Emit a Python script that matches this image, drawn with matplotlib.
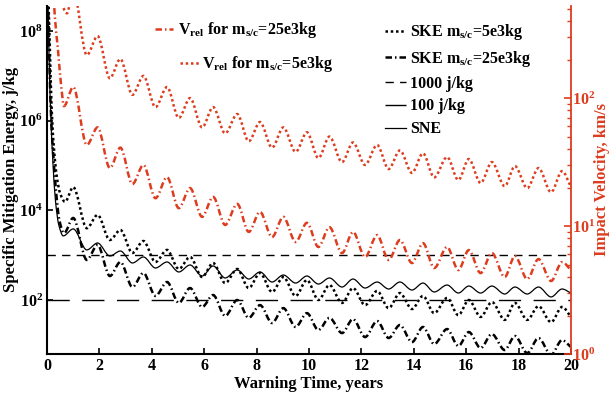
import numpy as np
import matplotlib
matplotlib.use('Agg')
import matplotlib.pyplot as plt
from matplotlib.path import Path
from matplotlib.patches import PathPatch
from matplotlib.lines import Line2D
from matplotlib.ticker import FixedLocator, NullLocator

plt.rcParams['font.family'] = ['Liberation Serif', 'DejaVu Serif']
plt.rcParams['font.weight'] = 'bold'
plt.rcParams['mathtext.fontset'] = 'custom'
plt.rcParams['mathtext.rm'] = 'Liberation Serif:bold'
plt.rcParams['mathtext.it'] = 'Liberation Serif:bold'
plt.rcParams['mathtext.bf'] = 'Liberation Serif:bold'
plt.rcParams['mathtext.default'] = 'rm'

RED = '#dd3c1e'

# warning time of the peaks / troughs of the oscillation (years)
t_osc = [1.0, 1.52, 1.93, 2.4, 2.8, 3.26, 3.68, 4.14, 4.58, 5.03, 5.46, 5.92,
         6.34, 6.8, 7.26, 7.7, 8.13, 8.59, 9.02, 9.49, 9.92, 10.36, 10.78, 11.26,
         11.68, 12.14, 12.6, 13.04, 13.47, 13.93, 14.35, 14.78, 15.27, 15.7, 16.1,
         16.55, 16.98, 17.47, 17.86, 18.33, 18.76, 19.24, 19.66, 20.0]

# impact velocity, km/s (right axis)
t_v5_start = [0.25, 0.5, 0.76]
v5_start = [3000, 640, 460]
v5 = [700, 217, 305, 143, 202, 106, 149, 85, 122, 70, 100, 59,
      85, 53, 75, 46, 65, 41, 59, 38, 54, 34, 50, 31.6,
      45, 30, 43, 27.9, 39, 26, 37, 24, 34.6, 22.9, 33.4,
      21.7, 31.6, 20.5, 29.4, 19.8, 28.4, 18.4, 26.9, 20.2]

t_v25_start = [0.22, 0.3, 0.42, 0.53, 0.65]
v25_start = [836, 429, 237, 131, 86.6]
v25 = [122, 43, 59, 28.4, 41, 21.3, 30, 16.5, 24.1, 13.8, 19.8, 11.8,
       16.9, 10.2, 14.9, 9.0, 12.9, 8.2, 11.8, 7.5, 10.6, 6.86, 9.8, 6.15,
       9.0, 5.73, 8.5, 5.43, 7.78, 5.14, 7.36, 4.70, 6.86, 4.53, 6.49,
       4.29, 6.15, 4.0, 5.83, 3.85, 5.52, 3.72, 5.23, 4.53]

# specific mitigation energy, j/kg (left axis)
t_ske5_start = [0.02, 0.1, 0.18, 0.27, 0.38, 0.5, 0.69]
ske5_start = [2.3e9, 6.3e7, 1.7e6, 2.2e5, 5.3e4, 2.4e4, 1.55e4]
ske5 = [3.3e4, 4.0e3, 7.9e3, 2.18e3, 3.65e3, 1.12e3, 2.07e3, 705, 1310, 492, 912, 326,
        670, 239, 492, 185, 400, 151, 326, 123, 279, 100, 216, 86,
        185, 77, 159, 66, 143, 63, 123, 51, 111, 46, 100,
        42, 90, 36, 86, 36, 73, 32, 70, 42]

t_ske25_start = [0.02, 0.09, 0.16, 0.24, 0.34, 0.47, 0.65]
ske25_start = [2.3e9, 2.3e7, 1.04e6, 1.73e5, 2.85e4, 6.1e3, 3.1e3]
ske25 = [6760, 782, 1690, 343, 705, 195, 400, 123, 252, 86, 185, 70,
         129, 44, 100, 40, 77, 30.7, 66, 25, 51, 21.4, 40, 18.3,
         37.6, 14.9, 34, 14.2, 27.7, 11.5, 25, 10.4, 22.5, 9.4, 19.3,
         8.5, 17.4, 7.66, 15.7, 6.56, 14.2, 6.0, 12.8, 8.9]

t_sne_start = [0.02, 0.08, 0.15, 0.22, 0.32, 0.45, 0.62]
sne_start = [2.3e9, 2.28e7, 1.04e6, 1.33e5, 1.7e4, 4.7e3, 2.69e3]
sne = [3850, 1310, 1870, 960, 1240, 670, 912, 518, 705, 422, 604, 343,
       574, 310, 468, 294, 422, 252, 361, 239, 343, 227, 310, 195,
       294, 185, 252, 176, 252, 167, 239, 151, 216, 143, 205,
       143, 205, 136, 195, 136, 195, 117, 176, 143]

levels_t = [0, 20]
level_1000 = 1000
level_100 = 100


def smooth_path(t, v):
    # monotone cubic (pchip-like) Bezier through the points, in log space
    x = np.asarray(t, float)
    y = np.log10(np.asarray(v, float))
    h = np.diff(x)
    d = np.diff(y) / h
    m = np.zeros_like(y)
    for i in range(1, len(y) - 1):
        if d[i - 1] * d[i] > 0:
            w1 = 2 * h[i] + h[i - 1]
            w2 = h[i] + 2 * h[i - 1]
            m[i] = (w1 + w2) / (w1 / d[i - 1] + w2 / d[i])
    m[0] = d[0]
    m[-1] = d[-1]
    verts = [(x[0], y[0])]
    codes = [Path.MOVETO]
    for i in range(len(x) - 1):
        verts += [(x[i] + h[i] / 3, y[i] + m[i] * h[i] / 3),
                  (x[i + 1] - h[i] / 3, y[i + 1] - m[i + 1] * h[i] / 3),
                  (x[i + 1], y[i + 1])]
        codes += [Path.CURVE4] * 3
    verts = np.array(verts)
    verts[:, 1] = 10 ** verts[:, 1]
    return Path(verts, codes)


def add_curve(axis, t, v, **kw):
    axis.add_patch(PathPatch(smooth_path(t, v), fill=False, **kw))


dotted = (0, (1, 1.1))
dashdot = (0, (2.6, 1.2, 0.6, 1.2))

fig = plt.figure(figsize=(6.09, 3.96), dpi=100)
ax = fig.add_axes([0.0772, 0.106, 0.8604, 0.879])
ax.set_yscale('log')
ax.set_xlim(0, 20)
ax.set_ylim(10 ** 0.795, 10 ** 8.56)

ax2 = ax.twinx()
ax2.set_yscale('log')
ax2.set_ylim(1, 10 ** 2.72)

ax.plot(levels_t, [level_1000] * 2, color='black', lw=1, dashes=(6, 4.5))
ax.plot(levels_t, [level_100] * 2, color='black', lw=1, dashes=(16, 9))
add_curve(ax, t_sne_start + t_osc, sne_start + sne, edgecolor='black', lw=0.9)
add_curve(ax, t_ske5_start + t_osc, ske5_start + ske5, edgecolor='black', lw=1.8, linestyle=dotted)
add_curve(ax, t_ske25_start + t_osc, ske25_start + ske25, edgecolor='black', lw=1.8, linestyle=dashdot)
add_curve(ax2, t_v5_start + t_osc, v5_start + v5, edgecolor=RED, lw=1.8, linestyle=dotted)
add_curve(ax2, t_v25_start + t_osc, v25_start + v25, edgecolor=RED, lw=1.8, linestyle=dashdot)

# axes styling
for a in (ax, ax2):
    a.spines['top'].set_visible(False)
ax.spines['right'].set_visible(False)
ax2.spines['left'].set_visible(False)
ax2.spines['bottom'].set_visible(False)
ax2.spines['right'].set_color(RED)
ax2.spines['right'].set_linewidth(1.3)
ax.spines['left'].set_linewidth(1.5)
ax.spines['bottom'].set_linewidth(1.5)

ax.set_xticks(np.arange(0, 21, 2))
ax.yaxis.set_major_locator(FixedLocator([1e2, 1e4, 1e6, 1e8]))
ax.yaxis.set_minor_locator(NullLocator())
ax.tick_params(direction='in', which='both', top=False, right=False,
               labelsize=11.5, length=4, width=1.2, pad=3)
ax2.tick_params(axis='y', which='major', direction='in', colors=RED,
                labelsize=11.5, length=5, width=1.2, pad=1)
ax2.tick_params(axis='y', which='minor', direction='in', colors=RED, length=3, width=1)

ax.set_xlabel('Warning Time, years', fontsize=12, fontweight='bold', labelpad=1)
ax.set_ylabel('Specific Mitigation Energy, j/kg', fontsize=12, fontweight='bold', labelpad=0)
ax2.set_ylabel('Impact Velocity, km/s', fontsize=12, fontweight='bold', color=RED, labelpad=-1)

# legends
h_v25 = Line2D([], [], color=RED, lw=1.8, linestyle=dashdot)
h_v5 = Line2D([], [], color=RED, lw=1.8, linestyle=dotted)
leg1 = ax2.legend([h_v25], [r'V$_{rel}$ for m$_{s/c}$=25e3kg'], loc='center left',
                  bbox_to_anchor=(0.206, 0.93), frameon=False, fontsize=11.5,
                  handlelength=1.15, handletextpad=0.3, borderpad=0, borderaxespad=0)
ax2.add_artist(leg1)
leg2 = ax2.legend([h_v5], [r'V$_{rel}$ for m$_{s/c}$=5e3kg'], loc='center left',
                  bbox_to_anchor=(0.254, 0.832), frameon=False, fontsize=11.5,
                  handlelength=1.25, handletextpad=0.15, borderpad=0, borderaxespad=0)
ax2.add_artist(leg2)

handles = [Line2D([], [], color='black', lw=1.8, linestyle=dotted),
           Line2D([], [], color='black', lw=1.8, linestyle=dashdot),
           Line2D([], [], color='black', lw=1, dashes=(6, 4.5)),
           Line2D([], [], color='black', lw=1, dashes=(16, 9)),
           Line2D([], [], color='black', lw=0.9)]
labels = [r'SKE m$_{s/c}$=5e3kg', r'SKE m$_{s/c}$=25e3kg', '1000 j/kg', '100 j/kg', 'SNE']
ax2.legend(handles, labels, loc='upper left', bbox_to_anchor=(0.645, 0.953),
           frameon=False, fontsize=11.5, handlelength=1.3, handletextpad=0.25,
           labelspacing=0.42, borderpad=0, borderaxespad=0)

fig.savefig('out.png', dpi=100)
